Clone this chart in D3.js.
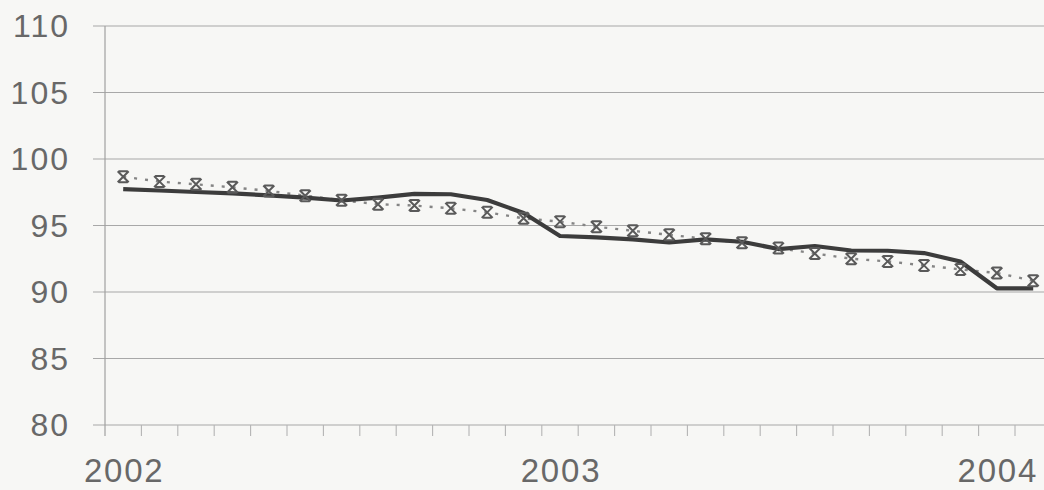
<!DOCTYPE html>
<html>
<head>
<meta charset="utf-8">
<script src="https://cdn.jsdelivr.net/npm/d3@7"></script>
<style>
  html, body { margin: 0; padding: 0; background: #f7f7f5; }
  svg { display: block; }
</style>
</head>
<body>
<svg id="chart" width="1044" height="490"></svg>
<script>
const months = ["2002-01","2002-02","2002-03","2002-04","2002-05","2002-06","2002-07","2002-08","2002-09","2002-10","2002-11","2002-12",
                "2003-01","2003-02","2003-03","2003-04","2003-05","2003-06","2003-07","2003-08","2003-09","2003-10","2003-11","2003-12",
                "2004-01","2004-02"];
const solidSeries = [97.74, 97.63, 97.52, 97.42, 97.26, 97.1, 96.88, 97.1, 97.38, 97.35, 96.92, 95.94,
                     94.21, 94.1, 93.95, 93.72, 93.95, 93.78, 93.23, 93.46, 93.12, 93.1, 92.93, 92.29,
                     90.28, 90.28];
const dottedSeries = [98.67, 98.3, 98.1, 97.87, 97.6, 97.24, 96.9, 96.6, 96.5, 96.29, 95.99, 95.54,
                      95.29, 94.91, 94.6, 94.3, 94.0, 93.7, 93.3, 92.9, 92.5, 92.3, 92.0, 91.7,
                      91.43, 90.85];
const yTicks = [80, 85, 90, 95, 100, 105, 110];
const yearLabels = [["2002-01","2002"],["2003-01","2003"],["2004-01","2004"]];

const svg = d3.select("#chart");
const plotLeft = 105, plotTop = 26, plotBottom = 425, step = 36.4;
const x = d3.scaleBand().domain(months).range([plotLeft, plotLeft + step * months.length]).padding(0);
const y = d3.scaleLinear().domain([80, 110]).range([plotBottom, plotTop]);
const cx = d => x(d) + x.bandwidth() / 2;

// gridlines (with left tick stubs)
svg.append("g").selectAll("line").data(yTicks).join("line")
  .attr("x1", 93).attr("x2", 1044)
  .attr("y1", d => y(d)).attr("y2", d => y(d))
  .attr("stroke", "#a8a8a8").attr("stroke-width", 1.2);

// y labels
svg.append("g").selectAll("text").data(yTicks).join("text")
  .attr("x", 70).attr("y", d => y(d))
  .attr("text-anchor", "end").attr("dominant-baseline", "central")
  .attr("font-family", "Liberation Sans, Arial, sans-serif")
  .attr("font-size", 32).attr("letter-spacing", "2px")
  .attr("fill", "#686868")
  .text(d => d);

// y axis line
svg.append("line").attr("x1", plotLeft).attr("x2", plotLeft).attr("y1", plotTop).attr("y2", plotBottom + 11)
  .attr("stroke", "#a0a0a0").attr("stroke-width", 1.2);

// x axis ticks at category boundaries
const bounds = months.map(m => x(m)).concat([x(months[months.length - 1]) + x.bandwidth()]);
svg.append("g").selectAll("line").data(bounds.slice(1)).join("line")
  .attr("x1", d => d).attr("x2", d => d).attr("y1", plotBottom).attr("y2", plotBottom + 11)
  .attr("stroke", "#b4b4b4").attr("stroke-width", 1.1);

// x labels
svg.append("g").selectAll("text").data(yearLabels).join("text")
  .attr("x", d => cx(d[0]) + 1).attr("y", 482)
  .attr("text-anchor", "middle")
  .attr("font-family", "Liberation Sans, Arial, sans-serif")
  .attr("font-size", 33).attr("letter-spacing", "1.8px")
  .attr("fill", "#686868")
  .text(d => d[1]);

// dotted series
const lineGen = d3.line().x((d, i) => cx(months[i])).y(d => y(d));
svg.append("path").datum(dottedSeries)
  .attr("d", lineGen).attr("fill", "none")
  .attr("stroke", "#858585").attr("stroke-width", 2.4)
  .attr("stroke-dasharray", "3,8");

// solid series
svg.append("path").datum(solidSeries)
  .attr("d", lineGen).attr("fill", "none")
  .attr("stroke", "#3c3c3c").attr("stroke-width", 4.2)
  .attr("stroke-linejoin", "round");

// markers
const mk = svg.append("g").selectAll("g").data(dottedSeries).join("g")
  .attr("transform", (d, i) => `translate(${cx(months[i])},${y(d)})`);
const s = 5.5;
mk.append("path")
  .attr("d", `M${-s},${-s}L${s},${s}M${s},${-s}L${-s},${s}M${-s + 1},${-s}L${s - 1},${-s}M${-s + 1},${s}L${s - 1},${s}`)
  .attr("stroke", "#5a5a5a").attr("stroke-width", 2).attr("fill", "none");
</script>
</body>
</html>
